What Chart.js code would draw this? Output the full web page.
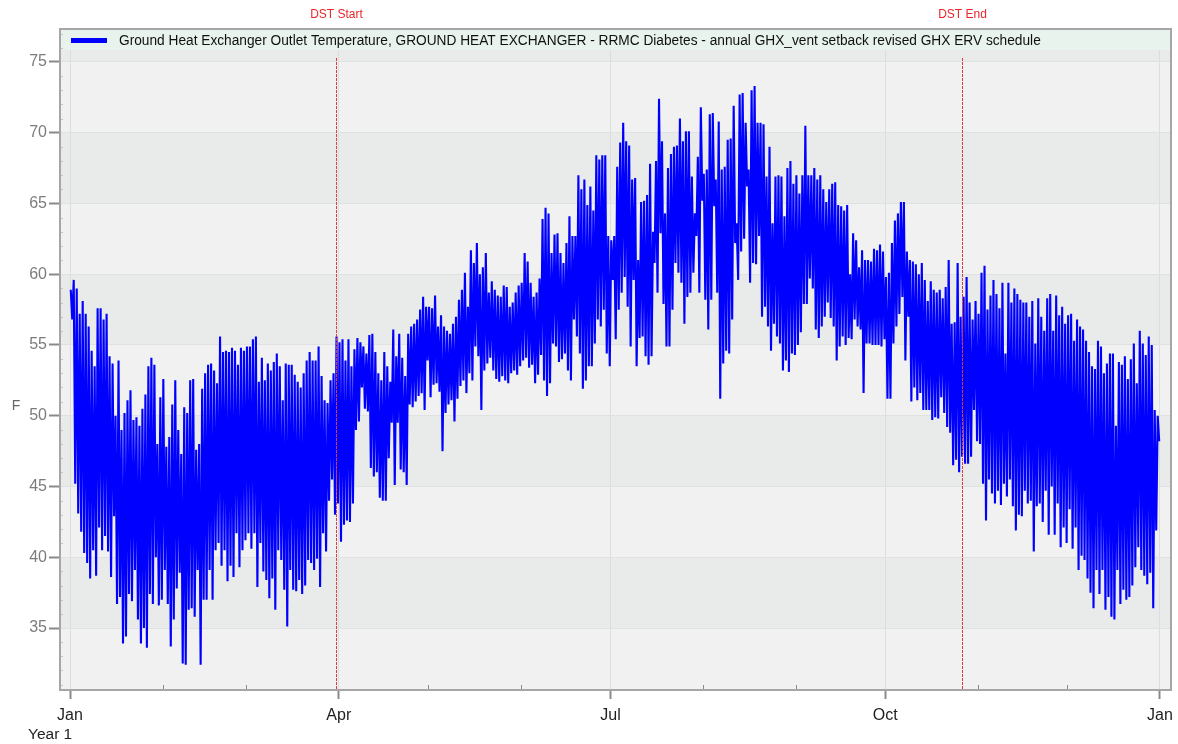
<!DOCTYPE html>
<html>
<head>
<meta charset="utf-8">
<script src="https://cdn.jsdelivr.net/npm/chart.js@4.4.1/dist/chart.umd.min.js"></script>
<style>
html,body{margin:0;padding:0;background:#fff;}
#wrap{width:1178px;height:744px;position:relative;}
</style>
</head>
<body>
<div id="wrap"><canvas id="c" width="1178" height="744"></canvas></div>
<script>
// ---- Data ----
const seriesLabel = 'Ground Heat Exchanger Outlet Temperature, GROUND HEAT EXCHANGER - RRMC Diabetes - annual GHX_vent setback revised GHX ERV schedule';

// daily high / low of the hourly series, day 0 = Jan 1
const dailyHigh = [
 58.9,59.6,59.0,57.2,58.1,57.2,56.3,54.6,53.5,57.6, 57.6,56.8,57.2,54.2,53.7,50.0,53.9,49.0,50.2,51.1,
 51.8,49.7,49.9,49.3,50.5,51.5,53.5,54.1,53.6,48.0, 51.3,52.6,47.8,48.5,50.8,52.5,49.0,47.3,50.6,50.2,
 52.5,52.6,47.6,48.0,51.9,53.0,53.6,53.7,53.2,52.3, 55.6,54.5,54.6,54.5,54.8,54.6,53.6,54.8,54.6,54.9,
 54.9,55.4,55.6,52.4,54.1,52.5,53.7,53.2,53.8,54.4, 53.5,51.1,53.7,53.6,53.6,52.9,52.4,52.0,53.0,53.9,
 54.5,53.9,53.9,54.9,52.8,51.1,50.9,52.5,53.0,55.6, 55.2,55.4,53.9,55.4,53.5,54.7,55.5,55.2,54.9,54.4,
 55.7,55.8,54.5,53.0,52.5,54.5,53.5,52.4,56.1,54.2, 55.8,54.1,52.8,55.8,56.3,56.5,56.8,57.5,58.4,57.7,
 57.7,57.6,58.5,56.3,57.1,56.3,56.0,55.8,56.5,57.0, 58.2,58.9,60.1,57.7,61.7,60.8,62.2,60.0,60.5,61.5,
 58.7,59.5,58.9,58.5,58.4,59.2,59.1,57.7,58.0,58.7, 59.2,59.4,61.5,60.9,59.4,58.4,58.7,59.7,63.9,64.7,
 64.3,61.5,62.8,62.9,61.5,60.8,62.2,64.1,62.7,62.7, 67.0,66.0,66.7,64.9,66.2,64.5,68.4,68.1,68.4,68.4,
 62.7,62.4,62.7,67.6,69.3,70.7,69.4,69.1,66.7,66.8, 61.0,65.1,65.2,65.6,67.8,63.0,68.0,72.4,69.4,64.3,
 67.5,68.5,69.0,69.1,71.0,69.4,70.1,70.1,66.9,64.3, 68.3,71.8,67.1,67.4,71.3,71.4,66.7,70.8,67.4,67.6,
 69.5,69.6,71.9,63.6,72.7,72.8,70.7,67.4,73.0,73.3, 70.7,70.7,70.6,66.9,69.0,63.6,66.9,67.0,66.9,64.1,
 67.5,68.0,66.4,67.0,65.7,67.0,70.5,67.0,67.0,67.5, 66.7,67.0,66.0,65.1,66.0,66.4,66.5,64.9,64.8,64.5,
 64.9,60.0,62.9,62.4,60.5,61.7,61.0,61.0,60.9,61.8, 61.7,62.1,61.6,59.8,60.1,62.2,63.8,64.3,65.1,65.1,
 61.6,61.0,60.9,60.7,60.0,60.8,59.6,58.1,59.5,58.9, 58.7,58.9,58.3,59.1,61.0,56.5,56.6,60.8,57.0,58.4,
 59.8,58.0,56.8,58.1,57.2,60.1,60.6,57.5,58.5,59.6, 58.6,57.6,59.4,54.4,59.4,58.0,59.0,58.6,58.2,58.0,
 58.0,57.0,58.1,55.1,58.3,57.0,56.0,58.3,58.6,56.0, 58.5,57.1,57.7,56.5,57.1,57.2,55.3,56.8,56.3,56.1,
 55.3,54.5,53.5,53.3,55.3,54.9,53.0,53.7,54.4,54.4, 49.3,53.8,53.6,54.2,52.6,54.0,55.1,52.3,56.0,55.1,
 54.3,55.6,55.0,50.4,50.0
];
const dailyLow = [
 56.8,45.2,43.1,41.8,40.3,39.6,38.5,40.5,38.7,42.1, 40.5,41.5,40.4,38.6,42.9,36.7,37.2,33.9,34.4,37.4,
 36.9,39.1,35.6,33.9,35.0,33.6,37.4,36.7,40.0,36.6, 37.0,39.1,36.7,33.7,35.6,37.8,38.9,32.5,32.4,36.3,
 36.4,35.8,39.1,32.4,37.0,37.0,39.1,37.0,40.5,41.0, 39.4,40.5,38.3,39.4,38.6,41.7,39.3,40.5,41.2,41.7,
 40.6,41.7,37.9,41.0,39.0,38.4,37.1,38.5,36.3,40.5, 39.8,37.7,35.1,39.1,37.7,37.6,38.4,37.4,38.0,39.8,
 39.6,39.1,39.9,37.9,41.7,40.4,44.0,45.5,43.0,43.8, 41.1,42.3,42.6,42.5,43.8,49.0,49.6,52.0,50.5,50.3,
 46.3,45.7,46.0,44.2,44.0,44.0,47.0,49.5,45.1,49.5, 46.2,46.0,45.1,50.8,50.6,51.0,51.4,51.6,50.4,53.9,
 51.3,52.2,52.3,51.7,47.5,50.2,50.8,51.1,49.6,51.2, 52.1,52.5,51.6,53.0,52.5,54.9,54.2,50.4,53.2,53.7,
 54.1,53.2,52.6,52.4,52.8,52.5,52.3,53.0,53.2,52.9, 53.5,53.9,54.1,53.4,53.6,52.3,52.9,54.3,52.5,51.4,
 52.3,55.1,54.9,53.8,54.0,54.4,53.2,52.5,56.8,55.6, 54.4,51.9,52.5,53.5,53.5,55.1,56.8,56.3,57.5,54.4,
 53.5,59.6,55.4,57.5,58.7,59.8,57.7,54.9,59.6,53.5, 55.5,55.6,54.2,53.6,54.2,60.8,58.7,62.9,57.9,54.9,
 54.9,57.5,60.8,60.1,59.4,56.5,58.4,58.7,60.1,62.7, 58.7,65.2,58.2,56.1,58.2,64.8,58.7,51.2,53.7,54.6,
 54.4,56.8,62.2,59.6,61.6,62.5,66.2,59.4,60.8,60.7, 62.7,57.0,57.7,56.3,54.6,56.5,55.6,55.1,53.2,53.9,
 53.1,54.4,54.3,55.0,55.9,57.9,57.9,59.7,59.0,56.1, 55.5,56.3,57.0,58.0,56.9,56.3,53.9,54.9,55.6,55.0,
 55.5,55.4,56.8,56.3,56.1,51.6,55.1,55.1,55.0,55.0, 55.0,54.9,55.4,51.2,51.2,55.1,56.3,57.2,58.4,53.9,
 57.0,51.0,52.0,51.1,51.6,50.4,50.4,50.4,49.7,49.9, 49.8,51.3,50.2,49.2,48.8,46.5,46.9,46.0,47.1,46.6,
 46.6,47.1,50.4,48.2,48.0,45.2,42.6,45.5,44.5,43.8, 44.7,43.7,45.2,44.3,45.5,43.6,41.9,43.0,42.9,44.7,
 43.8,44.0,40.4,43.6,43.8,42.5,44.7,41.6,45.0,41.6, 43.8,40.7,42.1,41.0,43.4,40.6,42.1,39.1,40.1,39.8,
 38.5,37.5,36.4,39.1,37.4,39.1,36.3,37.2,35.8,35.6, 39.1,36.7,37.7,37.0,37.2,38.0,39.3,40.7,39.1,38.7,
 38.1,38.9,36.4,41.9,48.2
];

// axis ticks
const monthStartDays = [0,31,59,90,120,151,181,212,243,273,304,334,365];
const monthTickLabels = ['Jan','','','Apr','','','Jul','','','Oct','','','Jan'];
const majorMonthDays = [0,90,181,273,365];
const yTickValues = [35,40,45,50,55,60,65,70,75];
const yBandStep = 5;
const yMinorStep = 1;
const dstDays = [89.0, 298.7];
const dstLabels = ['DST Start','DST End'];
const xAxisSubLabel = 'Year 1';
const yAxisLabel = 'F';

// ---- build the point list: high then low within each day ----
const points = [];
for (let i = 0; i < dailyHigh.length; i++) {
  points.push({x: i + 0.25, y: dailyHigh[i]});
  points.push({x: i + 0.75, y: dailyLow[i]});
}

const FONT = "'Liberation Sans', Arial, Helvetica, sans-serif";
Chart.defaults.font.family = FONT;

const bandLight = '#f0f1f0';
const bandDark = '#e9ebea';

const deco = {
  id: 'deco',
  beforeDraw(chart) {
    const {ctx, chartArea: a, scales: {y}} = chart;
    ctx.save();
    ctx.fillStyle = '#ffffff';
    ctx.fillRect(0, 0, chart.width, chart.height);
    for (let v = 25; v < 80; v += yBandStep) {
      const top = Math.max(a.top, y.getPixelForValue(v + yBandStep));
      const bot = Math.min(a.bottom, y.getPixelForValue(v));
      if (bot <= top) continue;
      ctx.fillStyle = (Math.floor(v / yBandStep) % 2) ? bandDark : bandLight;
      ctx.fillRect(a.left, top, a.right - a.left, bot - top);
    }
    ctx.restore();
  },
  afterDraw(chart) {
    const {ctx, chartArea: a, scales: {x, y}} = chart;
    ctx.save();
    // legend strip inside plot top
    ctx.fillStyle = '#e7f3ec';
    ctx.fillRect(a.left, a.top, a.right - a.left, 21);
    ctx.fillStyle = '#0000ff';
    ctx.fillRect(a.left + 11, a.top + 9, 36, 5);
    let fs = 14;
    ctx.font = fs + 'px ' + FONT;
    const w = ctx.measureText(seriesLabel).width;
    fs = Math.max(12, Math.min(16, 14 * 922 / w));
    ctx.font = fs.toFixed(2) + 'px ' + FONT;
    ctx.fillStyle = '#111111';
    ctx.textBaseline = 'alphabetic';
    ctx.textAlign = 'left';
    ctx.fillText(seriesLabel, a.left + 59, a.top + 16);

    // DST markers
    dstDays.forEach((d, i) => {
      const px = Math.round(x.getPixelForValue(d)) + 0.5;
      ctx.strokeStyle = '#e23a3a';
      ctx.lineWidth = 1;
      ctx.setLineDash([3, 1]);
      ctx.beginPath();
      ctx.moveTo(px, a.top + 29);
      ctx.lineTo(px, a.bottom);
      ctx.stroke();
      ctx.setLineDash([]);
      ctx.fillStyle = '#e8262b';
      ctx.font = '12px ' + FONT;
      ctx.textAlign = 'center';
      ctx.fillText(dstLabels[i], px, 18);
    });

    // minor x ticks inside the plot
    ctx.strokeStyle = '#8a8a8a';
    ctx.lineWidth = 1;
    monthStartDays.forEach(d => {
      if (majorMonthDays.includes(d)) return;
      const px = Math.round(x.getPixelForValue(d)) + 0.5;
      ctx.beginPath();
      ctx.moveTo(px, a.bottom - 5);
      ctx.lineTo(px, a.bottom);
      ctx.stroke();
    });
    // minor y ticks inside the plot
    ctx.strokeStyle = '#c4c6c5';
    for (let v = 31; v <= 77; v += yMinorStep) {
      if (v % yBandStep === 0) continue;
      const py = Math.round(y.getPixelForValue(v)) + 0.5;
      ctx.beginPath();
      ctx.moveTo(a.left, py);
      ctx.lineTo(a.left + 3, py);
      ctx.stroke();
    }

    // frame
    ctx.strokeStyle = '#a6a6a6';
    ctx.lineWidth = 2;
    ctx.strokeRect(a.left, a.top, a.right - a.left, a.bottom - a.top);

    // extra axis texts
    ctx.fillStyle = '#222222';
    ctx.font = '15.5px ' + FONT;
    ctx.textAlign = 'left';
    ctx.fillText(xAxisSubLabel, 28, 739);
    ctx.fillStyle = '#666666';
    ctx.font = '14px ' + FONT;
    ctx.textAlign = 'center';
    ctx.fillText(yAxisLabel, 16, 410);
    ctx.restore();
  }
};

new Chart(document.getElementById('c'), {
  type: 'line',
  data: {
    datasets: [{
      label: seriesLabel,
      data: points,
      borderColor: '#0000ff',
      backgroundColor: '#0000ff',
      borderWidth: 2.1,
      borderJoinStyle: 'bevel',
      pointRadius: 0,
      tension: 0,
      fill: false
    }]
  },
  options: {
    responsive: false,
    animation: false,
    events: [],
    layout: {padding: {top: 29, right: 7, left: 0, bottom: 0}},
    plugins: {legend: {display: false}, tooltip: {enabled: false}, title: {display: false}},
    scales: {
      x: {
        type: 'linear',
        min: -3.35,
        max: 368.7,
        afterBuildTicks: s => { s.ticks = monthStartDays.map(v => ({value: v})); },
        afterFit: s => { s.height = 54; s.paddingLeft = 0; s.paddingRight = 0; },
        ticks: {
          autoSkip: false,
          maxRotation: 0,
          padding: 7,
          color: '#1e1e1e',
          font: {size: 16},
          callback: v => monthTickLabels[monthStartDays.indexOf(v)]
        },
        grid: {
          color: c => (c.tick && majorMonthDays.includes(c.tick.value)) ? '#dcdedd' : 'rgba(0,0,0,0)',
          tickColor: c => (c.tick && majorMonthDays.includes(c.tick.value)) ? '#8a8a8a' : 'rgba(0,0,0,0)',
          tickLength: 9,
          tickWidth: 2,
          lineWidth: 1
        },
        border: {display: false}
      },
      y: {
        type: 'linear',
        min: 30.62,
        max: 77.33,
        afterBuildTicks: s => { s.ticks = yTickValues.map(v => ({value: v})); },
        afterFit: s => { s.width = 60; s.paddingTop = 0; s.paddingBottom = 0; },
        ticks: {
          padding: 2,
          color: '#7c7c7c',
          font: {size: 16}
        },
        grid: {
          color: '#e0e2e1',
          tickColor: '#8a8a8a',
          tickLength: 11,
          tickWidth: 2,
          lineWidth: 1
        },
        border: {display: false}
      }
    }
  },
  plugins: [deco]
});
</script>
</body>
</html>
